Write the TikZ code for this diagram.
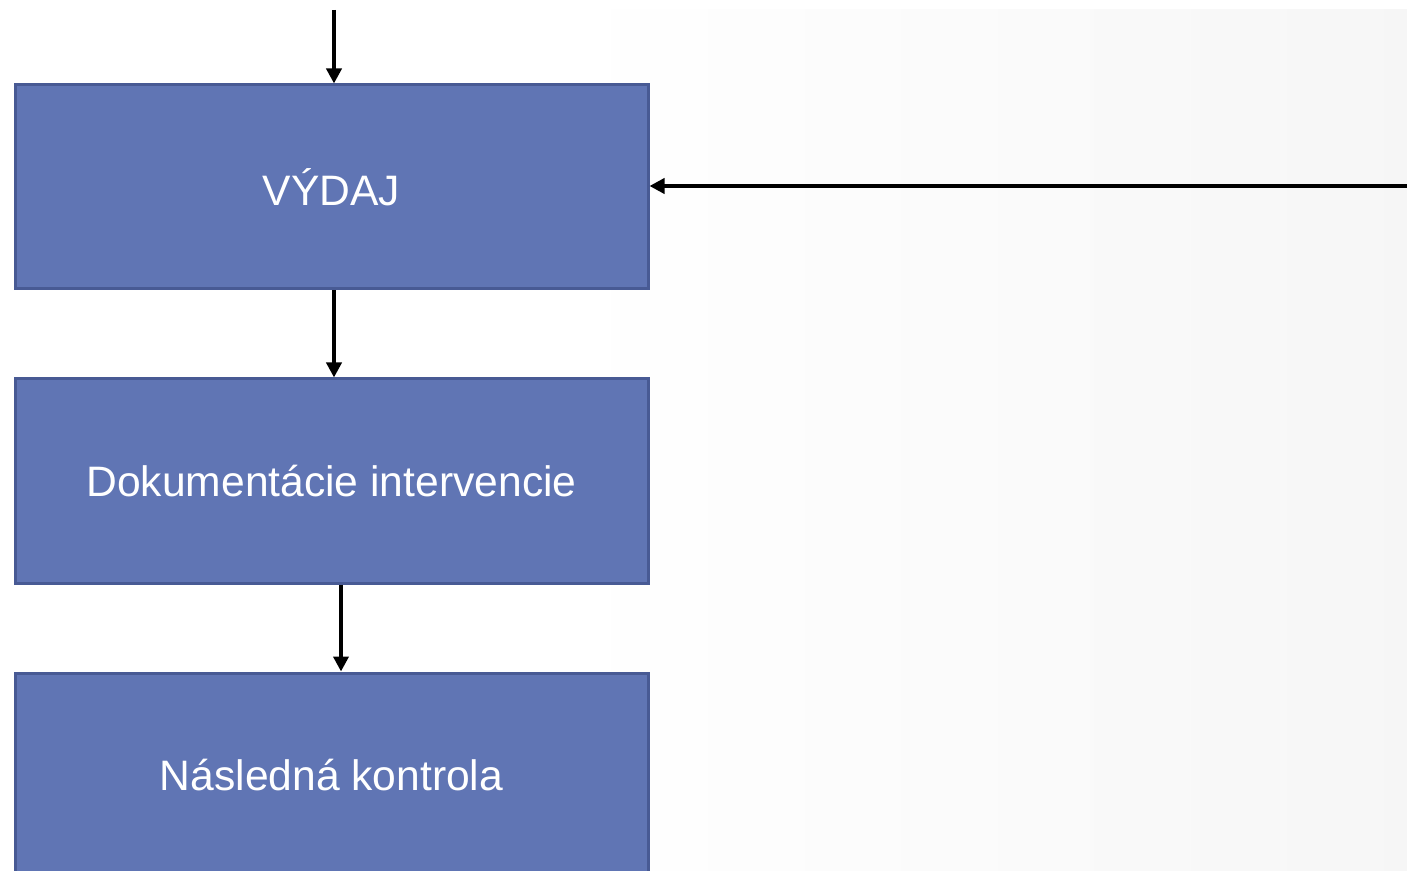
\documentclass[tikz,border=0pt]{standalone}
\usepackage{fontspec}
\setmainfont{Liberation Sans}
\usetikzlibrary{arrows.meta}
\definecolor{boxfill}{HTML}{6075B4}
\definecolor{boxline}{HTML}{485A94}
\pgfdeclarehorizontalshading{bgshade}{100bp}{color(0bp)=(white); color(45bp)=(white); color(80bp)=(black!4); color(100bp)=(black!9)}
\tikzset{
  stagebox/.style={draw=boxline, line width=1.5pt, fill=boxfill, minimum width=316.5pt, minimum height=102pt, inner sep=0pt, text=white, font=\fontsize{21.3}{26}\selectfont},
  arr/.style={line width=1.9pt, -{Triangle[length=7.5pt,width=7.5pt]}}
}
\begin{document}
\begin{tikzpicture}[x=0.5pt,y=-0.5pt]
\useasboundingbox (0,0) rectangle (1407,871);
\clip (0,0) rectangle (1407,871);
\fill[white] (0,0) rectangle (1407,871);
\shade[shading=bgshade] (0,10) rectangle (1407,871);
\node[stagebox] (b1) at (331.5,187) {VÝDAJ};
\node[stagebox] (b2) at (331.5,481) {Dokumentácie intervencie};
\node[stagebox] (b3) at (331.5,775) {Následná kontrola};
\coordinate (top) at (334,10);
\coordinate (rt) at (1407,186);
\draw[arr] (top) -- (top |- b1.north);
\draw[arr] ([xshift=1.25pt]b1.south) -- ([xshift=1.25pt]b2.north);
\draw[arr] ([xshift=4.75pt]b2.south) -- ([xshift=4.75pt]b3.north);
\draw[arr] (rt) -- (rt -| b1.east);
\end{tikzpicture}
\end{document}
